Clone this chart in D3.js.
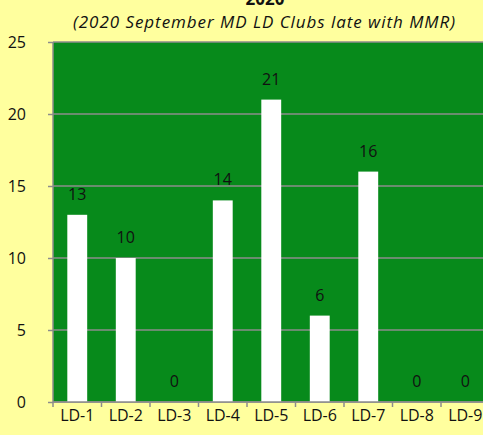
<!DOCTYPE html>
<html>
<head>
<meta charset="utf-8">
<title>MD LD Clubs late with MMR</title>
<script src="https://cdn.jsdelivr.net/npm/d3@7/dist/d3.min.js"></script>
<style>
  body { margin: 0; background: #ffff9e; overflow: hidden; }
  text { font-family: "Open Sans", "Liberation Sans", sans-serif; fill: #111; }
</style>
</head>
<body>
<div id="chart"></div>
<script>
// chart data
var districts = ["LD-1", "LD-2", "LD-3", "LD-4", "LD-5", "LD-6", "LD-7", "LD-8", "LD-9"];
var lateClubs = [13, 10, 0, 14, 21, 6, 16, 0, 0];
var yTicks = [0, 5, 10, 15, 20, 25];

var W = 483, H = 435;
// plot box (window.top is read only, so keep these in an object)
var plot = { left: 53, top: 42, bottom: 402, right: 489.5 };

var svg = d3.select("#chart").append("svg")
  .attr("width", W)
  .attr("height", H);

svg.append("rect").attr("width", W).attr("height", H).attr("fill", "#ffff9e");

var x = d3.scaleBand().domain(districts).range([plot.left, plot.right]).padding(0);
var y = d3.scaleLinear().domain([0, 25]).range([plot.bottom, plot.top]);

// plot area
svg.append("rect")
  .attr("x", plot.left).attr("y", plot.top)
  .attr("width", plot.right - plot.left).attr("height", plot.bottom - plot.top)
  .attr("fill", "#078a1b");

// gridlines
svg.selectAll(".grid").data(yTicks).enter().append("line")
  .attr("x1", plot.left).attr("x2", plot.right)
  .attr("y1", function(d) { return y(d); })
  .attr("y2", function(d) { return y(d); })
  .attr("stroke", "#8c8c8c")
  .attr("stroke-width", 1.5);

// bars
var barW = x.bandwidth() * 0.41;
svg.selectAll(".bar").data(lateClubs).enter().append("rect")
  .attr("x", function(d, i) { return x(districts[i]) + (x.bandwidth() - barW) / 2; })
  .attr("y", function(d) { return y(d); })
  .attr("width", barW)
  .attr("height", function(d) { return plot.bottom - y(d); })
  .attr("fill", "#ffffff");

// value labels
svg.selectAll(".val").data(lateClubs).enter().append("text")
  .attr("x", function(d, i) { return x(districts[i]) + x.bandwidth() / 2; })
  .attr("y", function(d) { return y(d) - 15; })
  .attr("text-anchor", "middle")
  .attr("font-size", 16)
  .text(function(d) { return d; });

// y axis
var yAxis = svg.append("g")
  .attr("transform", "translate(" + plot.left + ",0)")
  .call(d3.axisLeft(y).tickValues(yTicks).tickSize(5).tickPadding(22));
yAxis.selectAll("text").attr("font-size", 16).attr("fill", "#111");
yAxis.selectAll("line, path").attr("stroke", "#8c8c8c").attr("stroke-width", 1.5);
yAxis.select("path").attr("d", "M0," + plot.top + "V" + plot.bottom);

// x axis
var xAxis = svg.append("g")
  .attr("transform", "translate(0," + plot.bottom + ")")
  .call(d3.axisBottom(x).tickSize(0).tickPadding(8));
xAxis.selectAll("text").attr("font-size", 16).attr("fill", "#111");
xAxis.select("path").attr("stroke", "#8c8c8c").attr("stroke-width", 1.5).attr("d", "M" + plot.left + ",0H" + plot.right);
xAxis.selectAll(".xt").data(districts.concat(["end"])).enter().append("line")
  .attr("x1", function(d, i) { return plot.left + i * x.step(); })
  .attr("x2", function(d, i) { return plot.left + i * x.step(); })
  .attr("y1", 0).attr("y2", 5)
  .attr("stroke", "#8c8c8c").attr("stroke-width", 1.5);

// titles
svg.append("text")
  .attr("x", 265).attr("y", 5)
  .attr("text-anchor", "middle")
  .attr("font-size", 17).attr("font-weight", "bold")
  .text("2020");
svg.append("text")
  .attr("x", 264).attr("y", 28)
  .attr("text-anchor", "middle")
  .attr("font-size", 17).attr("font-style", "italic")
  .attr("textLength", 382).attr("lengthAdjust", "spacing")
  .text("(2020 September MD LD Clubs late with MMR)");
</script>
</body>
</html>
